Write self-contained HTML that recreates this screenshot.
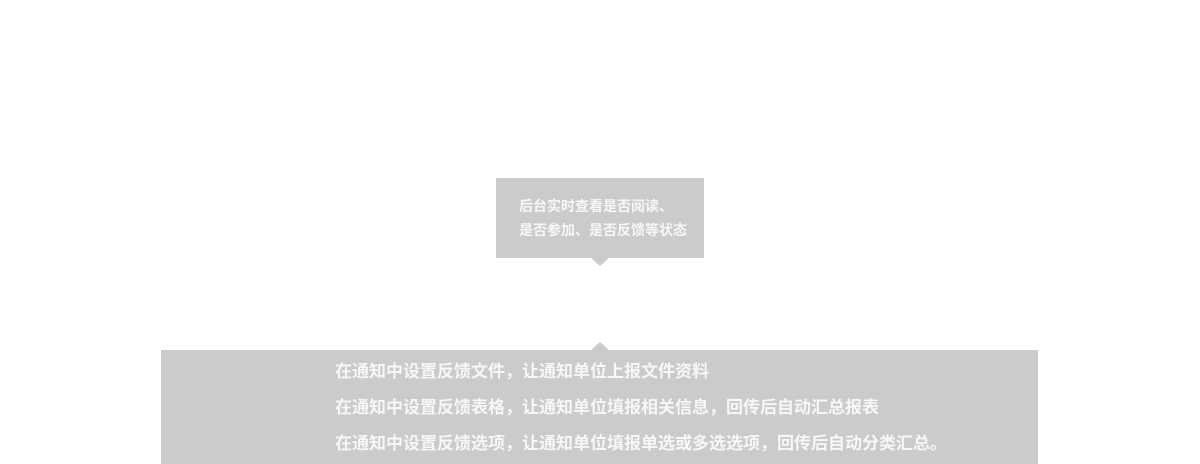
<!DOCTYPE html>
<html><head><meta charset="utf-8"><style>
body{margin:0;width:1200px;height:464px;background:#fff;position:relative;overflow:hidden;font-family:"Liberation Sans","Noto Sans CJK SC",sans-serif;font-weight:bold;color:#f7f7f7}
.b1{position:absolute;left:496px;top:178px;width:208px;height:80px;background:#cbcbcb}
.t1{position:absolute;left:519px;top:194px;font-size:14px;line-height:24px;white-space:nowrap}
.a1{position:absolute;left:591px;top:258px;width:0;height:0;border-left:9px solid transparent;border-right:9px solid transparent;border-top:8px solid #cbcbcb}
.b2{position:absolute;left:161px;top:350px;width:877px;height:114px;background:#cbcbcb}
.a2{position:absolute;left:591px;top:342px;width:0;height:0;border-left:9px solid transparent;border-right:9px solid transparent;border-bottom:8px solid #cbcbcb}
.t2{position:absolute;left:335px;top:354px;font-size:17px;line-height:36px;white-space:nowrap}
</style></head><body>
<div class="b1"></div><div class="a1"></div>
<div class="t1">后台实时查看是否阅读、<br>是否参加、是否反馈等状态</div>
<div class="b2"></div><div class="a2"></div>
<div class="t2">在通知中设置反馈文件，让通知单位上报文件资料<br>在通知中设置反馈表格，让通知单位填报相关信息，回传后自动汇总报表<br>在通知中设置反馈选项，让通知单位填报单选或多选选项，回传后自动分类汇总。</div>
</body></html>
